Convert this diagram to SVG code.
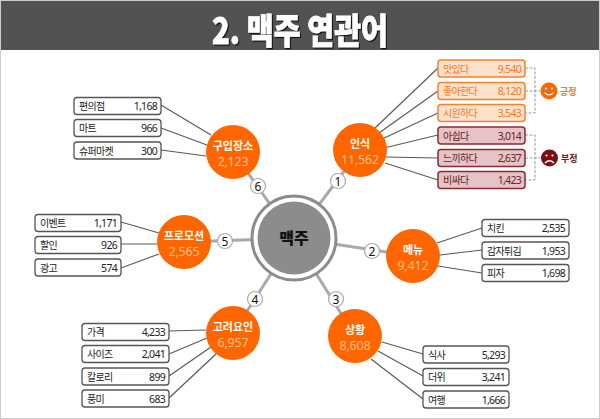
<svg xmlns="http://www.w3.org/2000/svg" width="600" height="419" viewBox="0 0 600 419">
<style>
text{font-family:"Noto Sans CJK KR","Noto Sans",sans-serif}
.b{fill:#fff;stroke:#555;stroke-width:1.3}
.bo{fill:#fde1cb;stroke:#f9802f;stroke-width:1.5}
.br{fill:#e6c3c7;stroke:#8a2b33;stroke-width:1.5}
.t{font-size:10px;fill:#222;letter-spacing:-.7px}
.n{font-size:10.5px;fill:#222;text-anchor:end;letter-spacing:-.7px;font-family:"Noto Sans","Noto Sans CJK KR",sans-serif}
.to{fill:#f57a28}.tr{fill:#6b1c24}
.c{fill:#ff6600}
.h{font-size:11px;font-weight:700;fill:#fff;text-anchor:middle}
.v{font-size:12.5px;fill:#ffbf8c;text-anchor:middle;letter-spacing:-.2px;font-family:"Noto Sans","Noto Sans CJK KR",sans-serif}
.s{stroke:#aaa;stroke-width:3;fill:none}
.l{stroke:#5a5a5a;stroke-width:1.2;fill:none}
.d{stroke:#999;stroke-width:1;stroke-dasharray:3 1.5;fill:none}
.k{fill:#fff;stroke:#aaa;stroke-width:1.2}
.m{font-size:12px;fill:#111;text-anchor:middle;font-family:"Noto Sans",sans-serif}
</style>
<rect x=".5" y=".5" width="599" height="418" fill="#fff" stroke="#ccc"/>
<g id="title">
<rect x="1" y="1" width="598" height="49" fill="#525252"/>
<text transform="translate(300 44) scale(1 1.15)" x="0" y="0" font-size="31" font-weight="900" fill="#fff" stroke="#fff" stroke-width=".7" text-anchor="middle" textLength="176" lengthAdjust="spacingAndGlyphs" style="filter:drop-shadow(1px 1px 0 #111)">2. 맥주 연관어</text>
</g>
<g id="connectors">
<path class="s" d="M294 238L360 150M294 238L413 256M294 238L355 336M294 238L233 333M294 238L184 242M294 238L233 152"/>
<path class="l" d="M375 128L438 68M379 133L438 91M382 139L438 113M384 148L438 135M386 157L438 158M385 163L438 180"/>
<path class="l" d="M161 105L211 135M161 128L207 145M161 150L206 156"/>
<path class="l" d="M121 222L159 233M121 244L157 244M121 268L159 254"/>
<path class="l" d="M169 331L206 330M169 354L207 338M169 376L211 347M169 398L216 354"/>
<path class="l" d="M437 243L482 228M440 255L482 250M438 266L482 273"/>
<path class="l" d="M382 342L423 354M378 351L423 376M371 359L423 399"/>
<path class="d" d="M525 68H535V113H525M525 91H540M525 135H535V180H525M525 158H540"/>
</g>
<g id="center">
<circle cx="294" cy="238" r="42" fill="#fff" stroke="#8c8c8c" stroke-width="3"/>
<circle cx="294" cy="238" r="36.5" fill="#8c8c8c"/>
<text x="294" y="244" font-size="16" font-weight="900" fill="#111" text-anchor="middle">맥주</text>
</g>
<g id="node-1"><circle class="c" cx="360" cy="150" r="27"/><text class="h" x="360" y="148">인식</text><text class="v" x="360" y="164">11,562</text></g>
<g id="node-2"><circle class="c" cx="413" cy="256" r="27"/><text class="h" x="413" y="254">메뉴</text><text class="v" x="413" y="270">9,412</text></g>
<g id="node-3"><circle class="c" cx="355" cy="336" r="27"/><text class="h" x="355" y="334">상황</text><text class="v" x="355" y="349.500">8,608</text></g>
<g id="node-4"><circle class="c" cx="233" cy="333" r="27"/><text class="h" x="233" y="331">고려요인</text><text class="v" x="233" y="346.500">6,957</text></g>
<g id="node-5"><circle class="c" cx="184" cy="242" r="27"/><text class="h" x="184" y="240">프로모션</text><text class="v" x="184" y="255.500">2,565</text></g>
<g id="node-6"><circle class="c" cx="233" cy="152" r="27"/><text class="h" x="233" y="150">구입장소</text><text class="v" x="233" y="165.500">2,123</text></g>
<g id="badge-1"><circle class="k" cx="338" cy="181" r="7.5"/><text class="m" x="338" y="185.500">1</text></g>
<g id="badge-2"><circle class="k" cx="372" cy="251" r="7.5"/><text class="m" x="372" y="255.500">2</text></g>
<g id="badge-3"><circle class="k" cx="336" cy="299" r="7.5"/><text class="m" x="336" y="303.500">3</text></g>
<g id="badge-4"><circle class="k" cx="255" cy="299" r="7.5"/><text class="m" x="255" y="303.500">4</text></g>
<g id="badge-5"><circle class="k" cx="225" cy="241" r="7.5"/><text class="m" x="225" y="245.500">5</text></g>
<g id="badge-6"><circle class="k" cx="258" cy="186" r="7.5"/><text class="m" x="258" y="190.500">6</text></g>
<g id="item-a1"><rect class="bo" x="438" y="60" width="87" height="17" rx="3"/><text class="t to" x="443" y="72.500">맛있다</text><text class="n to" x="521" y="72.500">9,540</text></g>
<g id="item-a2"><rect class="bo" x="438" y="82.500" width="87" height="17" rx="3"/><text class="t to" x="443" y="95">좋아한다</text><text class="n to" x="521" y="95">8,120</text></g>
<g id="item-a3"><rect class="bo" x="438" y="104.500" width="87" height="17" rx="3"/><text class="t to" x="443" y="117">시원하다</text><text class="n to" x="521" y="117">3,543</text></g>
<g id="item-a4"><rect class="br" x="438" y="127" width="87" height="17" rx="3"/><text class="t tr" x="443" y="139.500">아쉽다</text><text class="n tr" x="521" y="139.500">3,014</text></g>
<g id="item-a5"><rect class="br" x="438" y="149.500" width="87" height="17" rx="3"/><text class="t tr" x="443" y="162">느끼하다</text><text class="n tr" x="521" y="162">2,637</text></g>
<g id="item-a6"><rect class="br" x="438" y="171.500" width="87" height="17" rx="3"/><text class="t tr" x="443" y="184">비싸다</text><text class="n tr" x="521" y="184">1,423</text></g>
<g id="positive"><circle cx="549" cy="91" r="8.500" fill="#ff6600"/><circle cx="546" cy="88.500" r="1.100" fill="#fff"/><circle cx="552" cy="88.500" r="1.100" fill="#fff"/><path d="M544.500 92.500Q549 97.500 553.500 92.500" fill="none" stroke="#fff" stroke-width="1.200"/><text x="560" y="94.500" font-size="9" font-weight="700" fill="#f57a28">긍정</text></g>
<g id="negative"><circle cx="549.500" cy="158" r="8.500" fill="#7b0f14"/><circle cx="546.500" cy="155.500" r="1.100" fill="#fff"/><circle cx="552.500" cy="155.500" r="1.100" fill="#fff"/><path d="M545 163Q549.500 158.500 554 163" fill="none" stroke="#fff" stroke-width="1.200"/><text x="561" y="161.500" font-size="9" font-weight="700" fill="#6b1c24">부정</text></g>
<g id="item-b1"><rect class="b" x="482" y="219.500" width="87" height="17" rx="3"/><text class="t" x="487" y="232">치킨</text><text class="n" x="565" y="232">2,535</text></g>
<g id="item-b2"><rect class="b" x="482" y="242" width="87" height="17" rx="3"/><text class="t" x="487" y="254.500">감자튀김</text><text class="n" x="565" y="254.500">1,953</text></g>
<g id="item-b3"><rect class="b" x="482" y="264.500" width="87" height="17" rx="3"/><text class="t" x="487" y="277">피자</text><text class="n" x="565" y="277">1,698</text></g>
<g id="item-c1"><rect class="b" x="423" y="346" width="86" height="17" rx="3"/><text class="t" x="428" y="358.500">식사</text><text class="n" x="505" y="358.500">5,293</text></g>
<g id="item-c2"><rect class="b" x="423" y="368.500" width="86" height="17" rx="3"/><text class="t" x="428" y="381">더위</text><text class="n" x="505" y="381">3,241</text></g>
<g id="item-c3"><rect class="b" x="423" y="391" width="86" height="17" rx="3"/><text class="t" x="428" y="403.500">여행</text><text class="n" x="505" y="403.500">1,666</text></g>
<g id="item-d1"><rect class="b" x="82" y="323.500" width="87" height="17" rx="3"/><text class="t" x="87" y="336">가격</text><text class="n" x="165" y="336">4,233</text></g>
<g id="item-d2"><rect class="b" x="82" y="345.500" width="87" height="17" rx="3"/><text class="t" x="87" y="358">사이즈</text><text class="n" x="165" y="358">2,041</text></g>
<g id="item-d3"><rect class="b" x="82" y="368" width="87" height="17" rx="3"/><text class="t" x="87" y="380.500">칼로리</text><text class="n" x="165" y="380.500">899</text></g>
<g id="item-d4"><rect class="b" x="82" y="390" width="87" height="17" rx="3"/><text class="t" x="87" y="402.500">풍미</text><text class="n" x="165" y="402.500">683</text></g>
<g id="item-e1"><rect class="b" x="35" y="214.500" width="86" height="17" rx="3"/><text class="t" x="40" y="227">이벤트</text><text class="n" x="117" y="227">1,171</text></g>
<g id="item-e2"><rect class="b" x="35" y="236.500" width="86" height="17" rx="3"/><text class="t" x="40" y="249">할인</text><text class="n" x="117" y="249">926</text></g>
<g id="item-e3"><rect class="b" x="35" y="259" width="86" height="17" rx="3"/><text class="t" x="40" y="271.500">광고</text><text class="n" x="117" y="271.500">574</text></g>
<g id="item-f1"><rect class="b" x="74" y="97.500" width="87" height="17" rx="3"/><text class="t" x="79" y="110">편의점</text><text class="n" x="157" y="110">1,168</text></g>
<g id="item-f2"><rect class="b" x="74" y="119.500" width="87" height="17" rx="3"/><text class="t" x="79" y="132">마트</text><text class="n" x="157" y="132">966</text></g>
<g id="item-f3"><rect class="b" x="74" y="142" width="87" height="17" rx="3"/><text class="t" x="79" y="154.500">슈퍼마켓</text><text class="n" x="157" y="154.500">300</text></g>
</svg>
